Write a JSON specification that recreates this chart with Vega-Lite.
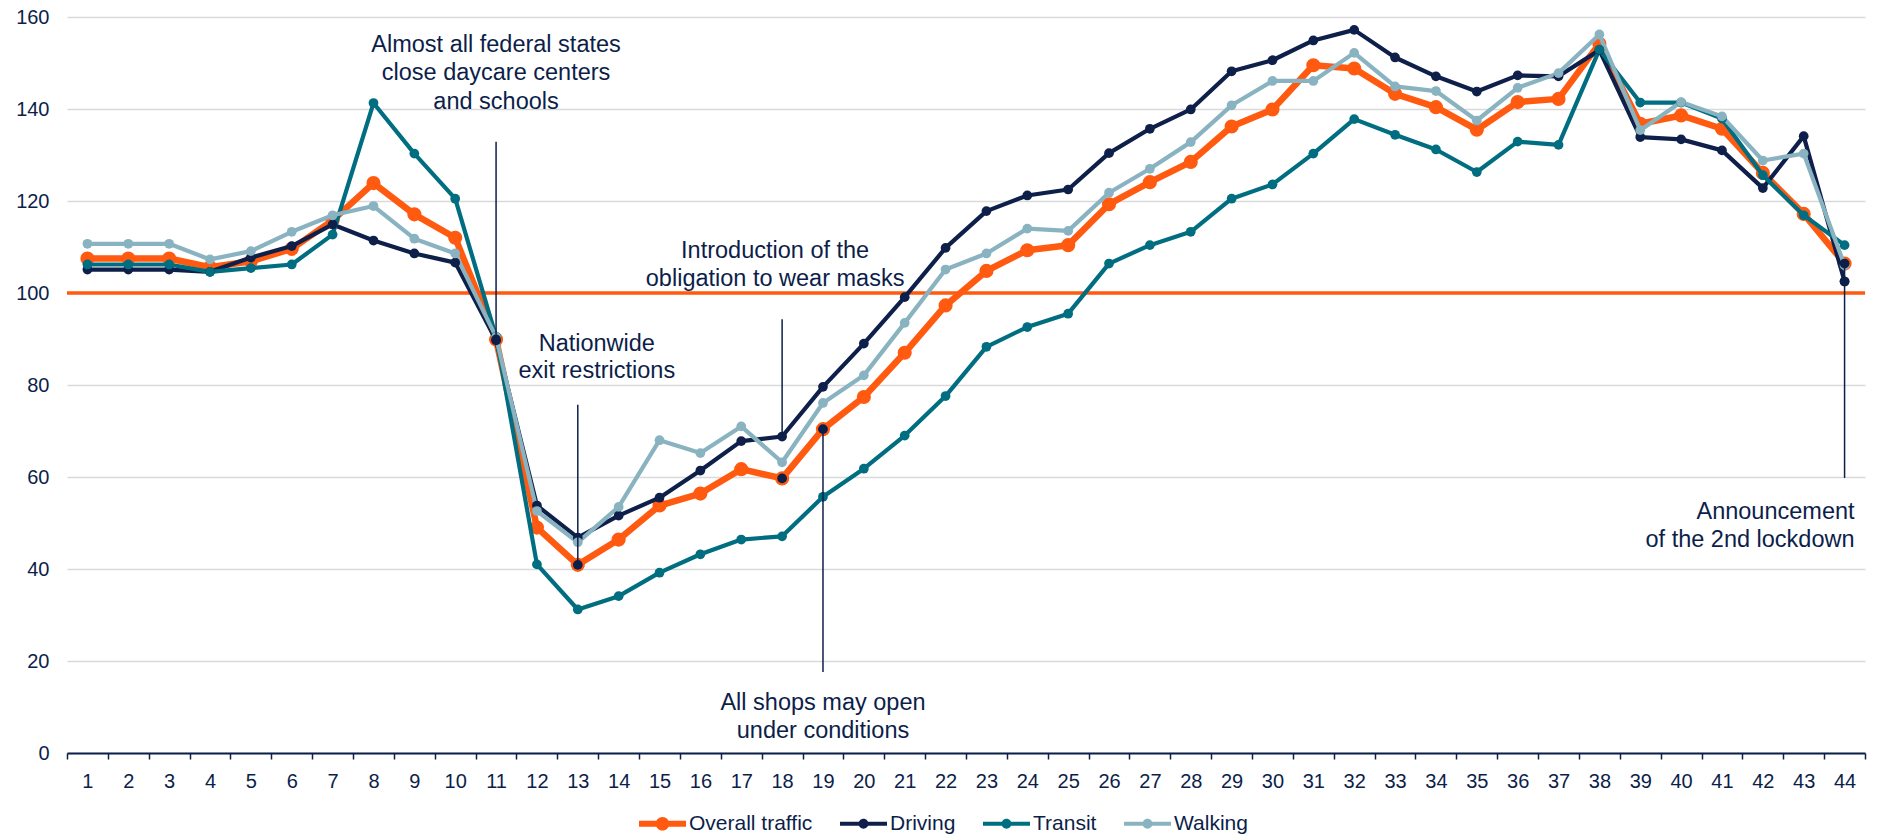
{
  "$schema": "https://vega.github.io/schema/vega-lite/v6.json",
  "width": 1798,
  "height": 736,
  "autosize": "none",
  "padding": {"left": 67, "top": 17, "right": 12, "bottom": 83},
  "background": "white",
  "config": {
    "font": "Liberation Sans",
    "view": {"stroke": null},
    "axisX": {"title": null, "labelAngle": 0, "labelFontSize": 20, "labelColor": "#0C1E4A", "domainColor": "#0C1E4A", "domainWidth": 2, "tickColor": "#0C1E4A", "tickWidth": 1.5, "tickSize": 6, "labelPadding": 12, "tickBand": "extent", "grid": false},
    "axisY": {"title": null, "labelFontSize": 20, "labelColor": "#0C1E4A", "domain": false, "ticks": false, "labelPadding": 18, "gridColor": "#D9D9D9", "gridWidth": 1.7}
  },
  "datasets": {
    "traffic": [
      {"week": 1, "Overall traffic": 107.5, "Driving": 105.1, "Transit": 106.2, "Walking": 110.7},
      {"week": 2, "Overall traffic": 107.5, "Driving": 105.1, "Transit": 106.2, "Walking": 110.7},
      {"week": 3, "Overall traffic": 107.5, "Driving": 105.1, "Transit": 106.2, "Walking": 110.7},
      {"week": 4, "Overall traffic": 105.6, "Driving": 104.6, "Transit": 104.6, "Walking": 107.3},
      {"week": 5, "Overall traffic": 106.9, "Driving": 107.7, "Transit": 105.4, "Walking": 109.1},
      {"week": 6, "Overall traffic": 109.6, "Driving": 110.2, "Transit": 106.2, "Walking": 113.3},
      {"week": 7, "Overall traffic": 115.8, "Driving": 114.9, "Transit": 112.7, "Walking": 116.9},
      {"week": 8, "Overall traffic": 123.9, "Driving": 111.4, "Transit": 141.3, "Walking": 118.9},
      {"week": 9, "Overall traffic": 117.1, "Driving": 108.6, "Transit": 130.3, "Walking": 111.8},
      {"week": 10, "Overall traffic": 112.0, "Driving": 106.6, "Transit": 120.5, "Walking": 108.6},
      {"week": 11, "Overall traffic": 89.9, "Driving": 89.7, "Transit": 90.5, "Walking": 90.4},
      {"week": 12, "Overall traffic": 49.0, "Driving": 53.8, "Transit": 41.0, "Walking": 52.6},
      {"week": 13, "Overall traffic": 40.9, "Driving": 46.8, "Transit": 31.2, "Walking": 45.8},
      {"week": 14, "Overall traffic": 46.4, "Driving": 51.6, "Transit": 34.1, "Walking": 53.5},
      {"week": 15, "Overall traffic": 53.8, "Driving": 55.5, "Transit": 39.2, "Walking": 68.0},
      {"week": 16, "Overall traffic": 56.4, "Driving": 61.4, "Transit": 43.2, "Walking": 65.2},
      {"week": 17, "Overall traffic": 61.7, "Driving": 67.8, "Transit": 46.4, "Walking": 71.0},
      {"week": 18, "Overall traffic": 59.7, "Driving": 68.8, "Transit": 47.1, "Walking": 63.2},
      {"week": 19, "Overall traffic": 70.4, "Driving": 79.6, "Transit": 55.7, "Walking": 76.1},
      {"week": 20, "Overall traffic": 77.4, "Driving": 89.0, "Transit": 61.8, "Walking": 82.1},
      {"week": 21, "Overall traffic": 87.0, "Driving": 99.1, "Transit": 69.0, "Walking": 93.5},
      {"week": 22, "Overall traffic": 97.3, "Driving": 109.8, "Transit": 77.6, "Walking": 105.1},
      {"week": 23, "Overall traffic": 104.8, "Driving": 117.8, "Transit": 88.3, "Walking": 108.6},
      {"week": 24, "Overall traffic": 109.3, "Driving": 121.2, "Transit": 92.6, "Walking": 114.0},
      {"week": 25, "Overall traffic": 110.4, "Driving": 122.5, "Transit": 95.5, "Walking": 113.5},
      {"week": 26, "Overall traffic": 119.3, "Driving": 130.4, "Transit": 106.4, "Walking": 121.8},
      {"week": 27, "Overall traffic": 124.1, "Driving": 135.7, "Transit": 110.4, "Walking": 127.0},
      {"week": 28, "Overall traffic": 128.5, "Driving": 139.9, "Transit": 113.3, "Walking": 132.8},
      {"week": 29, "Overall traffic": 136.2, "Driving": 148.2, "Transit": 120.5, "Walking": 140.8},
      {"week": 30, "Overall traffic": 139.9, "Driving": 150.6, "Transit": 123.6, "Walking": 146.1},
      {"week": 31, "Overall traffic": 149.5, "Driving": 154.9, "Transit": 130.3, "Walking": 146.1},
      {"week": 32, "Overall traffic": 148.8, "Driving": 157.2, "Transit": 137.8, "Walking": 152.2},
      {"week": 33, "Overall traffic": 143.3, "Driving": 151.2, "Transit": 134.4, "Walking": 144.9},
      {"week": 34, "Overall traffic": 140.4, "Driving": 147.1, "Transit": 131.2, "Walking": 143.9},
      {"week": 35, "Overall traffic": 135.5, "Driving": 143.8, "Transit": 126.3, "Walking": 137.5},
      {"week": 36, "Overall traffic": 141.5, "Driving": 147.3, "Transit": 132.9, "Walking": 144.6},
      {"week": 37, "Overall traffic": 142.2, "Driving": 147.1, "Transit": 132.2, "Walking": 147.8},
      {"week": 38, "Overall traffic": 154.2, "Driving": 152.8, "Transit": 152.9, "Walking": 156.2},
      {"week": 39, "Overall traffic": 136.8, "Driving": 133.9, "Transit": 141.4, "Walking": 135.4},
      {"week": 40, "Overall traffic": 138.6, "Driving": 133.4, "Transit": 141.4, "Walking": 141.5},
      {"week": 41, "Overall traffic": 135.7, "Driving": 131.0, "Transit": 137.9, "Walking": 138.4},
      {"week": 42, "Overall traffic": 126.1, "Driving": 122.8, "Transit": 125.6, "Walking": 128.8},
      {"week": 43, "Overall traffic": 117.2, "Driving": 134.1, "Transit": 116.9, "Walking": 130.3},
      {"week": 44, "Overall traffic": 106.4, "Driving": 102.5, "Transit": 110.4, "Walking": 106.0}
    ],
    "events": [
      {"week": 11, "top": 132.9, "bottom": 89.9},
      {"week": 13, "top": 75.7, "bottom": 40.9},
      {"week": 18, "top": 94.3, "bottom": 68.8},
      {"week": 19, "top": 70.4, "bottom": 17.6},
      {"week": 44, "top": 106.4, "bottom": 59.8}
    ],
    "eventDots": [
      {"week": 11, "value": 89.9},
      {"week": 13, "value": 40.9},
      {"week": 18, "value": 59.7},
      {"week": 19, "value": 70.4},
      {"week": 44, "value": 106.4},
      {"week": 44, "value": 102.5}
    ],
    "labelsCenter": [
      {"week": 11, "value": 154.0, "label": "Almost all federal states\nclose daycare centers\nand schools"},
      {"week": 19, "value": 10.9, "label": "All shops may open\nunder conditions"}
    ],
    "labelsExit": [
      {"week": 13, "value": 88.96, "label": "Nationwide\nexit restrictions"}
    ],
    "labelsMasks": [
      {"week": 18, "value": 109.2, "label": "Introduction of the\nobligation to wear masks"}
    ],
    "labelsRight": [
      {"week": 44, "value": 52.5, "label": "Announcement\nof the 2nd lockdown"}
    ]
  },
  "layer": [
    {
      "data": {"values": [{"ref": 100}]},
      "mark": {"type": "rule", "color": "#FF5A0F", "strokeWidth": 3.3},
      "encoding": {
        "y": {"field": "ref", "type": "quantitative", "scale": {"domain": [0, 160], "nice": false}, "axis": {"values": [0, 20, 40, 60, 80, 100, 120, 140, 160]}}
      }
    },
    {
      "data": {"name": "traffic"},
      "transform": [{"fold": ["Overall traffic", "Driving", "Transit", "Walking"], "as": ["mode", "value"]}],
      "encoding": {
        "x": {"field": "week", "type": "ordinal", "scale": {"type": "band", "paddingInner": 0, "paddingOuter": 0, "domain": [1,2,3,4,5,6,7,8,9,10,11,12,13,14,15,16,17,18,19,20,21,22,23,24,25,26,27,28,29,30,31,32,33,34,35,36,37,38,39,40,41,42,43,44]}, "axis": {}},
        "y": {"field": "value", "type": "quantitative", "scale": {"domain": [0, 160], "nice": false}, "axis": {"values": [0, 20, 40, 60, 80, 100, 120, 140, 160]}},
        "color": {"field": "mode", "type": "nominal", "scale": {"domain": ["Overall traffic", "Driving", "Transit", "Walking"], "range": ["#FF5A0F", "#0E1F4A", "#006E80", "#89B3C0"]},
          "legend": {"orient": "none", "legendX": 572, "legendY": 783, "direction": "horizontal", "title": null, "padding": 0,
            "symbolType": "M-1,-0.1L1,-0.1L1,0.1L-1,0.1Z M0.22,0A0.22,0.22 0 1,1 -0.22,0A0.22,0.22 0 1,1 0.22,0Z",
            "symbolSize": 2209, "symbolStrokeWidth": 0, "labelFontSize": 21, "labelColor": "#0C1E4A", "labelOffset": 3, "columnPadding": 27,
            "encode": {"symbols": {"update": {
              "fill": {"scale": "color", "field": "value"},
              "fillOpacity": {"value": 1},
              "strokeWidth": {"value": 0},
              "size": {"value": 2209},
              "shape": {"signal": "datum.value === 'Overall traffic' ? 'M-1,-0.13L1,-0.13L1,0.13L-1,0.13Z M0.29,0A0.29,0.29 0 1,1 -0.29,0A0.29,0.29 0 1,1 0.29,0Z' : 'M-1,-0.085L1,-0.085L1,0.085L-1,0.085Z M0.21,0A0.21,0.21 0 1,1 -0.21,0A0.21,0.21 0 1,1 0.21,0Z'"}
            }}}}
        }
      },
      "layer": [
        {
          "transform": [{"filter": "datum.mode === 'Overall traffic'"}],
          "layer": [
            {"mark": {"type": "line", "strokeWidth": 6.5, "strokeJoin": "round"}},
            {"mark": {"type": "circle", "opacity": 1, "size": 200}}
          ]
        },
        {
          "transform": [{"filter": "datum.mode !== 'Overall traffic'"}],
          "layer": [
            {"mark": {"type": "line", "strokeWidth": 4.2, "strokeJoin": "round"}},
            {"mark": {"type": "circle", "opacity": 1, "size": 95}}
          ]
        }
      ]
    },
    {
      "data": {"name": "events"},
      "mark": {"type": "rule", "color": "#0C1E4A", "strokeWidth": 1.5},
      "encoding": {
        "x": {"field": "week", "type": "ordinal"},
        "y": {"field": "top", "type": "quantitative"},
        "y2": {"field": "bottom"}
      }
    },
    {
      "data": {"name": "eventDots"},
      "mark": {"type": "circle", "color": "#0C1E4A", "opacity": 1, "size": 95},
      "encoding": {
        "x": {"field": "week", "type": "ordinal"},
        "y": {"field": "value", "type": "quantitative"}
      }
    },
    {
      "data": {"name": "labelsCenter"},
      "mark": {"type": "text", "fontSize": 23.5, "color": "#0C1E4A", "lineBreak": "\n", "lineHeight": 28.5, "align": "center", "baseline": "middle"},
      "encoding": {
        "x": {"field": "week", "type": "ordinal"},
        "y": {"field": "value", "type": "quantitative"},
        "text": {"field": "label"}
      }
    },
    {
      "data": {"name": "labelsExit"},
      "mark": {"type": "text", "fontSize": 23.5, "color": "#0C1E4A", "lineBreak": "\n", "lineHeight": 27.5, "align": "center", "baseline": "middle", "dx": 19},
      "encoding": {
        "x": {"field": "week", "type": "ordinal"},
        "y": {"field": "value", "type": "quantitative"},
        "text": {"field": "label"}
      }
    },
    {
      "data": {"name": "labelsMasks"},
      "mark": {"type": "text", "fontSize": 23.5, "color": "#0C1E4A", "lineBreak": "\n", "lineHeight": 28, "align": "center", "baseline": "middle", "dx": -7},
      "encoding": {
        "x": {"field": "week", "type": "ordinal"},
        "y": {"field": "value", "type": "quantitative"},
        "text": {"field": "label"}
      }
    },
    {
      "data": {"name": "labelsRight"},
      "mark": {"type": "text", "fontSize": 23.5, "color": "#0C1E4A", "lineBreak": "\n", "lineHeight": 28.5, "align": "right", "baseline": "middle", "dx": 10},
      "encoding": {
        "x": {"field": "week", "type": "ordinal"},
        "y": {"field": "value", "type": "quantitative"},
        "text": {"field": "label"}
      }
    }
  ]
}
